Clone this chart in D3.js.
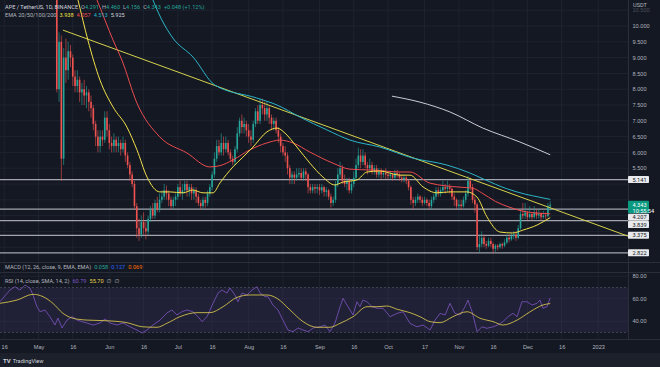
<!DOCTYPE html>
<html lang="en">
<head>
  <meta charset="UTF-8" />
  <title>APE / TetherUS 1D</title>
  <style>
    html, body {
      margin: 0;
      padding: 0;
      background-color: #141823;
    }

    svg {
      display: block;
      font-family: Roboto, "DejaVu Sans", sans-serif;
    }

    .legend, .tick-label {
      font-size: 5.6px;
      fill: #b2b5be;
    }

    .axis .domain {
      display: none;
    }

    .axis text {
      font-size: 5.6px;
      fill: #b2b5be;
    }
  </style>
</head>

<body>

  <svg width="660" height="367"></svg>

  <script src="https://d3js.org/d3.v7.min.js"></script>
  <script>
    // ---- data ----
    const firstDay = 8; // first candle = 2022-05-09 (days after May 1)

    // [open, high, low, close], one row per day
    const candles = [
      [11.6, 12.2, 7.9, 8.0], [8.0, 9.8, 7.6, 9.5], [9.5, 9.7, 5.1, 5.8], [5.8, 9.3, 5.6, 9.0],
      [9.0, 9.6, 8.2, 8.6], [8.6, 9.5, 8.3, 9.2], [9.2, 9.4, 8.7, 9.0], [9.0, 9.1, 8.1, 8.4],
      [8.4, 8.6, 7.9, 8.1], [8.1, 8.6, 7.9, 8.3], [8.3, 8.4, 7.6, 7.9], [7.9, 8.2, 7.5, 8.0],
      [8.0, 8.3, 7.5, 7.8], [7.8, 8.1, 7.4, 7.9], [7.9, 8.0, 7.3, 7.6], [7.6, 7.8, 7.1, 7.4],
      [7.4, 7.5, 6.7, 6.9], [6.9, 7.0, 6.2, 6.5], [6.5, 6.7, 6.0, 6.2], [6.2, 6.7, 6.0, 6.5],
      [6.5, 6.7, 6.2, 6.4], [6.4, 7.3, 6.3, 7.1], [7.1, 7.3, 6.5, 6.7], [6.7, 6.9, 6.1, 6.3],
      [6.3, 6.5, 6.0, 6.2], [6.2, 6.6, 6.0, 6.4], [6.4, 6.5, 6.0, 6.2], [6.2, 6.5, 6.0, 6.3],
      [6.3, 6.4, 5.9, 6.1], [6.1, 6.5, 6.0, 6.3], [6.3, 6.4, 5.7, 5.9], [5.9, 6.0, 5.5, 5.6],
      [5.6, 5.7, 5.1, 5.3], [5.3, 5.4, 4.9, 5.0], [5.0, 5.1, 4.2, 4.3], [4.3, 4.4, 3.3, 3.6],
      [3.6, 3.9, 3.2, 3.4], [3.4, 4.0, 3.3, 3.8], [3.8, 4.1, 3.4, 3.6], [3.6, 3.8, 3.25, 3.5],
      [3.5, 4.0, 3.4, 3.9], [3.9, 4.3, 3.8, 4.2], [4.2, 4.4, 3.9, 4.0], [4.0, 4.5, 3.9, 4.4],
      [4.4, 4.6, 4.1, 4.2], [4.2, 4.7, 4.1, 4.5], [4.5, 4.8, 4.4, 4.6], [4.6, 5.0, 4.5, 4.8],
      [4.8, 4.95, 4.5, 4.7], [4.7, 4.8, 4.3, 4.5], [4.5, 4.6, 4.2, 4.3], [4.3, 4.6, 4.2, 4.5],
      [4.5, 4.7, 4.3, 4.6], [4.6, 5.0, 4.5, 4.9], [4.9, 5.1, 4.6, 4.7], [4.7, 5.0, 4.5, 4.8],
      [4.8, 5.1, 4.7, 5.0], [5.0, 5.1, 4.6, 4.8], [4.8, 5.0, 4.6, 4.9], [4.9, 5.0, 4.5, 4.7],
      [4.7, 4.9, 4.5, 4.8], [4.8, 4.9, 4.4, 4.6], [4.6, 4.7, 4.3, 4.4], [4.4, 4.5, 4.2, 4.3],
      [4.3, 4.6, 4.2, 4.5], [4.5, 4.6, 4.25, 4.4], [4.4, 4.8, 4.3, 4.7], [4.7, 5.0, 4.6, 4.9],
      [4.9, 5.4, 4.8, 5.3], [5.3, 6.0, 5.2, 5.8], [5.8, 6.4, 5.7, 6.2], [6.2, 6.4, 5.9, 6.0],
      [6.0, 6.6, 5.9, 6.3], [6.3, 6.5, 5.9, 6.1], [6.1, 6.5, 6.0, 6.3], [6.3, 6.4, 5.9, 6.0],
      [6.0, 6.1, 5.7, 5.8], [5.8, 5.9, 5.6, 5.7], [5.7, 6.2, 5.6, 6.1], [6.1, 6.8, 6.0, 6.6],
      [6.6, 7.1, 6.5, 7.0], [7.0, 7.2, 6.6, 6.8], [6.8, 7.1, 6.6, 6.9], [6.9, 7.0, 6.5, 6.7],
      [6.7, 6.9, 6.3, 6.5], [6.5, 6.7, 6.2, 6.4], [6.4, 7.0, 6.3, 6.9], [6.9, 7.4, 6.8, 7.3],
      [7.3, 7.5, 6.9, 7.0], [7.0, 7.7, 6.9, 7.5], [7.5, 7.7, 7.2, 7.4], [7.4, 7.6, 7.0, 7.2],
      [7.2, 7.6, 7.0, 7.4], [7.4, 7.5, 6.9, 7.1], [7.1, 7.2, 6.7, 6.9], [6.9, 7.1, 6.7, 7.0],
      [7.0, 7.1, 6.6, 6.7], [6.7, 6.8, 6.3, 6.5], [6.5, 6.6, 6.0, 6.2], [6.2, 6.3, 5.9, 6.0],
      [6.0, 6.2, 5.7, 5.9], [5.9, 6.0, 5.3, 5.5], [5.5, 5.6, 5.0, 5.2], [5.2, 5.4, 5.0, 5.3],
      [5.3, 5.4, 5.0, 5.2], [5.2, 5.5, 5.1, 5.3], [5.3, 5.5, 5.2, 5.35], [5.35, 5.5, 5.1, 5.2],
      [5.2, 5.5, 5.1, 5.4], [5.4, 5.5, 5.1, 5.3], [5.3, 5.35, 4.7, 4.9], [4.9, 5.0, 4.7, 4.8],
      [4.8, 5.0, 4.7, 4.9], [4.9, 5.0, 4.7, 4.85], [4.85, 5.0, 4.7, 4.9], [4.9, 5.0, 4.65, 4.8],
      [4.8, 5.0, 4.7, 4.9], [4.9, 4.95, 4.6, 4.75], [4.75, 4.9, 4.6, 4.8], [4.8, 4.85, 4.5, 4.6],
      [4.6, 4.7, 4.25, 4.4], [4.4, 4.6, 4.3, 4.5], [4.5, 5.1, 4.4, 5.0], [5.0, 5.5, 4.9, 5.3],
      [5.3, 5.7, 5.2, 5.5], [5.5, 5.6, 5.0, 5.1], [5.1, 5.3, 4.9, 5.0], [5.0, 5.2, 4.8, 5.1],
      [5.1, 5.2, 4.7, 4.8], [4.8, 5.1, 4.7, 5.0], [5.0, 5.4, 4.9, 5.2], [5.2, 5.8, 5.1, 5.6],
      [5.6, 6.15, 5.5, 5.9], [5.9, 6.1, 5.5, 5.7], [5.7, 6.1, 5.6, 5.9], [5.9, 6.0, 5.5, 5.6],
      [5.6, 5.7, 5.3, 5.5], [5.5, 5.8, 5.4, 5.6], [5.6, 5.7, 5.3, 5.4], [5.4, 5.6, 5.3, 5.5],
      [5.5, 5.6, 5.2, 5.3], [5.3, 5.5, 5.2, 5.4], [5.4, 5.5, 5.15, 5.3], [5.3, 5.45, 5.2, 5.35],
      [5.35, 5.5, 5.15, 5.3], [5.3, 5.35, 5.15, 5.25], [5.25, 5.4, 5.15, 5.3], [5.3, 5.35, 5.1, 5.2],
      [5.2, 5.45, 5.15, 5.35], [5.35, 5.45, 5.2, 5.3], [5.3, 5.35, 5.1, 5.2], [5.2, 5.3, 5.05, 5.15],
      [5.15, 5.3, 5.05, 5.2], [5.2, 5.25, 5.0, 5.1], [5.1, 5.15, 4.8, 4.9], [4.9, 4.95, 4.35, 4.5],
      [4.5, 4.6, 4.2, 4.4], [4.4, 4.6, 4.3, 4.5], [4.5, 4.7, 4.4, 4.6], [4.6, 4.65, 4.4, 4.5],
      [4.5, 4.6, 4.3, 4.4], [4.4, 4.6, 4.35, 4.5], [4.5, 4.55, 4.3, 4.4], [4.4, 4.5, 4.2, 4.3],
      [4.3, 4.6, 4.2, 4.5], [4.5, 4.7, 4.4, 4.6], [4.6, 4.9, 4.5, 4.8], [4.8, 4.9, 4.6, 4.7],
      [4.7, 4.9, 4.6, 4.8], [4.8, 5.1, 4.7, 4.9], [4.9, 5.0, 4.7, 4.85], [4.85, 5.1, 4.75, 4.9],
      [4.9, 5.0, 4.7, 4.85], [4.85, 4.9, 4.5, 4.6], [4.6, 4.7, 4.3, 4.5], [4.5, 4.55, 4.2, 4.3],
      [4.3, 4.5, 4.2, 4.35], [4.35, 4.5, 4.2, 4.3], [4.3, 4.6, 4.25, 4.5], [4.5, 4.8, 4.4, 4.7],
      [4.7, 5.25, 4.6, 5.1], [5.1, 5.2, 4.8, 4.9], [4.9, 5.0, 4.4, 4.5], [4.5, 4.6, 4.1, 4.35],
      [4.35, 4.4, 2.9, 3.0], [3.0, 3.4, 2.85, 3.1], [3.1, 3.5, 3.0, 3.3], [3.3, 3.4, 3.0, 3.1],
      [3.1, 3.2, 2.95, 3.05], [3.05, 3.3, 3.0, 3.2], [3.2, 3.3, 3.0, 3.1], [3.1, 3.15, 2.8, 2.95],
      [2.95, 3.1, 2.85, 3.05], [3.05, 3.1, 2.9, 3.0], [3.0, 3.15, 2.95, 3.1], [3.1, 3.15, 2.95, 3.05],
      [3.05, 3.25, 3.0, 3.15], [3.15, 3.4, 3.1, 3.3], [3.3, 3.4, 3.15, 3.25], [3.25, 3.45, 3.2, 3.35],
      [3.35, 3.5, 3.25, 3.4], [3.4, 3.5, 3.2, 3.3], [3.3, 3.7, 3.25, 3.6], [3.6, 4.15, 3.55, 4.05],
      [4.05, 4.4, 3.9, 4.0], [4.0, 4.4, 3.9, 4.1], [4.1, 4.15, 3.85, 3.95], [3.95, 4.3, 3.9, 4.05],
      [4.05, 4.1, 3.85, 3.95], [3.95, 4.3, 3.9, 4.1], [4.1, 4.2, 3.9, 4.0], [4.0, 4.2, 3.9, 4.05],
      [4.05, 4.1, 3.85, 3.95], [3.95, 4.15, 3.9, 4.0], [4.0, 4.1, 3.88, 3.98], [3.98, 4.4, 3.95, 4.295],
      [4.291, 4.46, 4.156, 4.343]
    ];

    // moving averages as [day after May 1, value]
    const ema20 = [
      [15, 11.5], [17.3, 10.82], [21.6, 9.56], [26.9, 8.29], [32.6, 7.44], [38.7, 6.8], [43.1, 6.08],
      [47.5, 5.22], [53.1, 4.75], [57.5, 4.75], [63.2, 4.72], [67.6, 4.81], [72, 4.72], [76.4, 4.72],
      [79.4, 5.03], [85.1, 5.54], [89.5, 5.85], [93.9, 6.17], [100, 6.65], [104.4, 6.77], [107.9, 6.61],
      [113.1, 6.17], [118.8, 5.66], [124.5, 5.22], [129.7, 4.97], [133.2, 5.06], [139.4, 5.13],
      [143.8, 5.38], [149.4, 5.41], [158.2, 5.28], [162.6, 5.28], [168.3, 4.91], [174.4, 4.72],
      [180.1, 4.75], [187.5, 4.75], [191.9, 4.59], [196.3, 3.96], [202, 3.48], [207.6, 3.45],
      [212, 3.54], [218.2, 3.7], [224, 3.938]
    ];
    const ema50 = [
      [21, 11.6], [25.6, 10.82], [32.6, 9.56], [36.5, 8.92], [43.1, 7.56], [53.1, 6.49], [65, 5.98],
      [75, 5.54], [79.4, 5.58], [85.1, 5.76], [92.5, 6.08], [100, 6.3], [105.7, 6.39], [111.4, 6.3],
      [118.8, 6.01], [128.9, 5.66], [136.3, 5.47], [146.4, 5.44], [158.2, 5.38], [162.6, 5.38],
      [171.3, 5.03], [184.5, 4.9], [190, 4.87], [194, 4.72], [200, 4.45], [206, 4.27], [212, 4.14],
      [218, 4.08], [224, 4.057]
    ];
    const ema100 = [
      [48, 11.2], [54, 10.19], [58.8, 9.62], [67.6, 9.02], [77.2, 8.13], [95.6, 7.72], [104.4, 7.5],
      [114.4, 7.12], [126.3, 6.71], [136.3, 6.39], [149.4, 6.17], [163.9, 5.82], [178.8, 5.6],
      [188.8, 5.35], [195, 5.15], [205, 4.85], [213, 4.68], [219.5, 4.58], [224, 4.513]
    ];
    const ema200 = [
      [154.7, 7.78], [167, 7.59], [180.1, 7.28], [194.5, 6.77], [210.7, 6.33], [224, 5.925]
    ];
    const trendline = [[10.7, 9.87], [258, 3.35]];

    const levels = [5.141, 4.207, 3.839, 3.375, 2.822];
    const lastPrice = 4.343;
    const countdown = "10:55:54";

    const priceTicks = [3, 3.5, 4, 4.5, 5, 5.5, 6, 6.5, 7, 7.5, 8, 8.5, 9, 9.5, 10, 10.5];
    const timeTicks = [
      ["2022-04-16", "16"], ["2022-05-01", "May"], ["2022-05-16", "16"], ["2022-06-01", "Jun"],
      ["2022-06-16", "16"], ["2022-07-01", "Jul"], ["2022-07-16", "16"], ["2022-08-01", "Aug"],
      ["2022-08-16", "16"], ["2022-09-01", "Sep"], ["2022-09-16", "16"], ["2022-10-01", "Oct"],
      ["2022-10-17", "17"], ["2022-11-01", "Nov"], ["2022-11-16", "16"], ["2022-12-01", "Dec"],
      ["2022-12-16", "16"], ["2023-01-01", "2023"]
    ];

    const rsi = [
      [-16.9, 57.3], [-12.5, 67.7], [-10.3, 70.7], [-8.1, 67.7], [-5.9, 72.2], [-3.7, 69.2], [-2.4, 63.3],
      [-0.7, 52.9], [0.7, 48.4], [2.8, 50], [5, 44], [7.2, 36.6], [8.5, 42.8], [10.3, 34], [12.5, 41],
      [14.7, 44], [16.9, 41], [19, 39.6], [21.2, 38.4], [23.9, 36.6], [26.9, 38.4], [29.1, 42], [31.3, 38.4],
      [34.4, 36.6], [37, 38.4], [40.1, 35], [43.1, 32.2], [45.3, 29.5], [47.5, 32.2], [50.1, 36.6],
      [53.2, 41], [56.2, 47.3], [58.4, 50], [60.6, 45.5], [62.8, 48.4], [65, 50], [67.6, 48.4], [69.8, 44],
      [71.6, 39.6], [73.8, 44], [76.4, 56], [78.6, 65], [80.3, 67.7], [82.5, 65], [83.8, 69.5], [86, 63.3],
      [87.3, 57.3], [89.1, 65], [91.3, 63.3], [93.5, 67.7], [95.6, 70.7], [97, 65], [99.1, 61.8],
      [100.5, 61.8], [102.6, 54.4], [104.8, 50], [107, 41], [109.2, 32.2], [111.4, 30.7], [113.6, 34],
      [115.8, 32.2], [118, 30.7], [120.2, 34], [123.2, 35], [125.4, 36.6], [127.6, 30.7], [129.8, 38.4],
      [132, 52.9], [133.3, 60.3], [135.5, 52.9], [137.7, 45.5], [139.4, 57.3], [140.7, 52.9], [142, 58.8],
      [143.8, 57.3], [146, 52.9], [148.2, 51.5], [150.8, 51.5], [153.9, 44], [157, 47], [159.6, 48.4],
      [162.6, 38.1], [165.7, 35], [168.3, 36.6], [171.4, 32.2], [173.6, 41], [175.8, 47], [178, 45.5],
      [180.1, 55.9], [182.3, 47], [184.5, 45.5], [186.7, 52.9], [188, 58.8], [189.8, 48.4], [192, 30.7],
      [194.1, 35], [196.3, 33.7], [199, 35], [201.1, 36.6], [203.3, 39.6], [205.5, 44], [207.7, 47],
      [209.5, 44], [211.6, 57.3], [213.8, 57.3], [216, 54.4], [218.2, 55.9], [219.5, 58.8], [220.8, 51.5],
      [222.6, 52.9], [224, 60.79]
    ];
    const rsiMa = [
      [-16.9, 55.9], [-9.4, 58.8], [-2.4, 63.9], [2, 61.8], [6.3, 55.9], [10.7, 47], [15.1, 42.6],
      [21.2, 41], [30, 40.4], [38.7, 38.7], [45.7, 35], [51.9, 34.6], [56.2, 38.1], [61.9, 44],
      [69.4, 47.6], [75.1, 47.6], [80.8, 52.9], [86.9, 61.2], [92.6, 63.3], [100, 63.3], [104.4, 60.3],
      [110.1, 50], [115.8, 39.6], [121.9, 34.6], [127.6, 34.6], [132, 38.1], [137.7, 44], [143.8, 52.9],
      [148.2, 52.9], [152.5, 53.5], [157, 50.6], [162.6, 47.6], [167, 44], [171.4, 39.6], [175.8, 38.7],
      [181.4, 44], [187.6, 48.4], [193.3, 42.6], [199, 39.6], [203.3, 36.6], [209.5, 41], [215.2, 48.4],
      [220.8, 54.4], [224, 55.7]
    ];
    const rsiTicks = [40, 60, 80];

    // ---- layout ----
    const svg = d3.select("svg");
    const W = 660, H = 367;
    const plotRight = 628;
    const mainBottom = 262;
    const rsiTop = 273, rsiBottom = 339;

    const green = "#26a69a", red = "#ef5350";

    const parse = d3.utcParse("%Y-%m-%d");
    const base = parse("2022-05-01").getTime();
    const dayDate = d => new Date(base + d * 864e5);

    const x = d3.scaleTime()
      .domain([parse("2022-05-01"), parse("2023-01-01")])
      .range([38.5, 598.2]);
    const y = d3.scaleLinear().domain([3, 10]).range([247.2, 26]);
    const yRsi = d3.scaleLinear().domain([40, 80]).range([321.2, 276.2]);

    svg.append("rect").attr("width", W).attr("height", H).attr("fill", "#141823");
    svg.append("rect").attr("y", 353).attr("width", W).attr("height", H - 353).attr("fill", "#1c202b");

    const defs = svg.append("defs");
    defs.append("clipPath").attr("id", "clip-main")
      .append("rect").attr("width", plotRight).attr("height", mainBottom);
    defs.append("clipPath").attr("id", "clip-rsi")
      .append("rect").attr("y", rsiTop).attr("width", plotRight).attr("height", rsiBottom - rsiTop);

    // grid
    const grid = svg.append("g").attr("stroke", "#1e2330").attr("stroke-width", 1);
    priceTicks.forEach(v => {
      grid.append("line").attr("x1", 0).attr("x2", plotRight).attr("y1", y(v)).attr("y2", y(v));
    });
    rsiTicks.forEach(v => {
      grid.append("line").attr("x1", 0).attr("x2", plotRight).attr("y1", yRsi(v)).attr("y2", yRsi(v));
    });
    timeTicks.forEach(([d]) => {
      const xx = x(parse(d));
      grid.append("line").attr("x1", xx).attr("x2", xx).attr("y1", 0).attr("y2", rsiBottom);
    });

    // pane separators
    const sep = svg.append("g").attr("stroke", "#2a2e39").attr("stroke-width", 1);
    [mainBottom + 0.5, rsiTop - 0.5, rsiBottom + 0.5].forEach(yy => {
      sep.append("line").attr("x1", 0).attr("x2", W).attr("y1", yy).attr("y2", yy);
    });
    sep.append("line").attr("x1", plotRight + 0.5).attr("x2", plotRight + 0.5).attr("y1", 0).attr("y2", rsiBottom);

    // ---- main pane ----
    const main = svg.append("g").attr("clip-path", "url(#clip-main)");

    // horizontal levels
    main.selectAll(".level").data(levels).join("line")
      .attr("x1", 0).attr("x2", plotRight)
      .attr("y1", d => y(d)).attr("y2", d => y(d))
      .attr("stroke", "#b2b5be").attr("stroke-width", 1.2).attr("opacity", 0.9);

    // candles
    const bars = main.selectAll(".candle").data(candles).join("g")
      .attr("transform", (d, i) => `translate(${x(dayDate(firstDay + i))},0)`);
    bars.append("line")
      .attr("y1", d => y(d[1])).attr("y2", d => y(d[2]))
      .attr("stroke", d => d[3] >= d[0] ? green : red).attr("stroke-width", 0.6);
    bars.append("rect")
      .attr("x", -0.8).attr("width", 1.6)
      .attr("y", d => y(Math.max(d[0], d[3])))
      .attr("height", d => Math.max(0.6, Math.abs(y(d[0]) - y(d[3]))))
      .attr("fill", d => d[3] >= d[0] ? green : red);

    const priceLine = d3.line()
      .x(d => x(dayDate(d[0])))
      .y(d => y(d[1]))
      .curve(d3.curveMonotoneX);

    // trendline, extended to the right edge
    const t0 = trendline[0], t1 = trendline[1];
    main.append("line")
      .attr("x1", x(dayDate(t0[0]))).attr("y1", y(t0[1]))
      .attr("x2", x(dayDate(t1[0]))).attr("y2", y(t1[1]))
      .attr("stroke", "#d6d24c").attr("stroke-width", 1);

    [[ema200, "#c9ccd4"], [ema100, "#2bb5c8"], [ema50, "#ec4c4f"], [ema20, "#f2e24a"]].forEach(([data, color]) => {
      main.append("path")
        .datum(data)
        .attr("d", priceLine)
        .attr("fill", "none")
        .attr("stroke", color)
        .attr("stroke-width", 1);
    });

    // ---- RSI pane ----
    const rsiG = svg.append("g").attr("clip-path", "url(#clip-rsi)");
    rsiG.append("rect")
      .attr("x", 0).attr("width", plotRight)
      .attr("y", yRsi(70)).attr("height", yRsi(30) - yRsi(70))
      .attr("fill", "rgba(126, 87, 194, 0.12)");
    [70, 30].forEach(v => {
      rsiG.append("line")
        .attr("x1", 0).attr("x2", plotRight)
        .attr("y1", yRsi(v)).attr("y2", yRsi(v))
        .attr("stroke", "#787b86").attr("stroke-width", 0.6)
        .attr("stroke-dasharray", "2,2").attr("opacity", 0.7);
    });

    const rsiLine = d3.line().x(d => x(dayDate(d[0]))).y(d => yRsi(d[1]));
    rsiG.append("path").datum(rsi).attr("d", rsiLine)
      .attr("fill", "none").attr("stroke", "#7e57c2").attr("stroke-width", 0.8);
    rsiG.append("path").datum(rsiMa).attr("d", rsiLine.curve(d3.curveMonotoneX))
      .attr("fill", "none").attr("stroke", "#e9d44c").attr("stroke-width", 0.8);

    // price tags on the scale, pushed apart where they overlap
    const fmt = d3.format(".3f");
    const tags = levels.map(v => ({ v, text: fmt(v), fill: "#e8e9ec", color: "#131722", up: 3.5, h: 7 }));
    tags.push({ v: lastPrice, text: fmt(lastPrice), sub: countdown, fill: "#089981", color: "#ffffff", up: 4.1, h: 12.6 });
    tags.sort((a, b) => b.v - a.v);
    let prevBottom = -Infinity;
    tags.forEach(t => {
      t.top = Math.max(y(t.v) - t.up, prevBottom + 0.4);
      prevBottom = t.top + t.h;
    });

    // ---- axes ----
    // scale labels that would sit under a tag are left out, as the platform does
    const freeTicks = priceTicks.filter(v => !tags.some(t => y(v) + 3 > t.top && y(v) - 3 < t.top + t.h));
    svg.append("g")
      .attr("class", "axis")
      .attr("transform", `translate(${plotRight},0)`)
      .call(d3.axisRight(y).tickValues(freeTicks).tickSize(0).tickPadding(4.5).tickFormat(d3.format(".3f")))
      .selectAll(".tick")
      .attr("opacity", d => d > 10.2 ? 0.35 : 1);

    svg.append("g")
      .attr("class", "axis")
      .attr("transform", `translate(${plotRight},0)`)
      .call(d3.axisRight(yRsi).tickValues(rsiTicks).tickSize(0).tickPadding(4.5).tickFormat(d3.format(".2f")));

    const tickLabel = new Map(timeTicks.map(([d, l]) => [+parse(d), l]));
    svg.append("g")
      .attr("class", "axis")
      .attr("transform", `translate(0,${rsiBottom})`)
      .call(d3.axisBottom(x).tickValues(timeTicks.map(t => parse(t[0]))).tickSize(0).tickPadding(6)
        .tickFormat(d => tickLabel.get(+d)));

    svg.append("text").attr("class", "legend").attr("x", 633).attr("y", 6.6).text("USDT");

    const tagG = svg.append("g").selectAll("g").data(tags).join("g")
      .attr("transform", d => `translate(${plotRight},${d.top})`);
    tagG.append("rect").attr("width", 21).attr("height", d => d.h).attr("rx", 0.8).attr("fill", d => d.fill);
    tagG.append("text")
      .attr("x", 4.5).attr("y", d => d.up + 2)
      .attr("font-size", 5.6).attr("fill", d => d.color)
      .text(d => d.text);
    tagG.filter(d => d.sub).append("text")
      .attr("x", 4.5).attr("y", d => d.up + 8.2)
      .attr("font-size", 5.6).attr("fill", d => d.color)
      .text(d => d.sub);

    // ---- legends ----
    function legendRow(yy, parts) {
      const t = svg.append("text").attr("class", "legend").attr("x", 5).attr("y", yy);
      parts.forEach(([txt, color, dx]) => {
        t.append("tspan").attr("dx", dx || 0).attr("fill", color).text(txt);
      });
    }
    const gray = "#b2b5be";
    legendRow(8.5, [
      ["APE / TetherUS, 1D, BINANCE", "#d1d4dc"],
      ["O", gray, 3], ["4.291", green], ["H", gray, 3], ["4.460", green],
      ["L", gray, 3], ["4.156", green], ["C", gray, 3], ["4.343", green],
      ["+0.048 (+1.12%)", green, 3]
    ]);
    legendRow(16.5, [
      ["EMA 20/50/100/200", gray],
      ["3.938", "#f2e24a", 3], ["4.057", "#ec4c4f", 3], ["4.513", "#2bb5c8", 3], ["5.925", "#d1d4dc", 3]
    ]);
    legendRow(269, [
      ["MACD (12, 26, close, 9, EMA, EMA)", gray],
      ["0.058", green, 3], ["0.127", "#2962ff", 3], ["0.069", "#ff6d00", 3]
    ]);
    legendRow(283, [
      ["RSI (14, close, SMA, 14, 2)", gray],
      ["60.79", "#7e57c2", 3], ["55.70", "#e9d44c", 3], ["∅", gray, 3], ["∅", gray, 3]
    ]);

    // footer
    const foot = svg.append("text").attr("x", 3).attr("y", 362.5).attr("font-size", 6).attr("fill", "#d1d4dc");
    foot.append("tspan").attr("font-weight", "bold").text("TV");
    foot.append("tspan").attr("dx", 2).attr("font-size", 5.6).text("TradingView");
  </script>

</body>
</html>
